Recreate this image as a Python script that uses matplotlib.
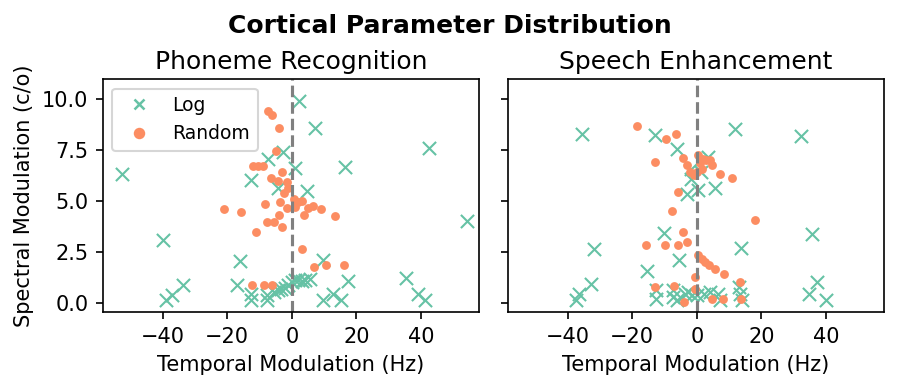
import matplotlib
matplotlib.use("Agg")
import matplotlib.pyplot as plt
from matplotlib.lines import Line2D

green = '#66c2a5'
orange = '#fc8d62'

# Phoneme Recognition
pr_log_x = [-52.7, -39.8, -39.0, -37.2, -33.6, -16.0, -17.0, -12.5, -12.5, -12.5,
            -7.6, -7.6, -7.3, -2.7, -4.3, 1.1, 2.1, 7.1, 42.5, 16.4,
            4.8, 54.3, 9.7, 17.4, 35.5, 39.1, 41.4, 9.7, 12.8, 15.1,
            -5.5, -4.2, -3.2, -2.2, -1.1, 0.0, 0.9, 2.0, 3.0, 4.0, 5.6]
pr_log_y = [6.32, 3.10, 0.11, 0.36, 0.85, 2.05, 0.85, 6.06, 0.44, 0.11,
            0.40, 0.15, 7.09, 7.40, 5.65, 6.62, 9.95, 8.58, 7.63, 6.68,
            5.48, 4.02, 2.12, 1.05, 1.23, 0.44, 0.11, 0.11, 0.44, 0.11,
            0.50, 0.60, 0.69, 0.74, 0.85, 1.00, 1.10, 1.13, 1.06, 1.13, 1.15]
pr_rand_x = [-7.5, -6.1, -4.0, -5.0, -12.0, -10.4, -8.9, -6.5, -4.4, -3.0,
             -1.5, -1.1, -2.4, -8.4, -3.7, 0.7, 2.0, 3.3, -1.6, 0.9,
             5.0, 6.6, 8.9, 13.3, 3.7, -21.0, -15.6, -4.0, -7.6, -5.6,
             -3.0, -11.1, -12.2, -8.7, -6.0, 3.3, 6.9, 10.7, 16.1]
pr_rand_y = [9.44, 9.23, 8.60, 7.47, 6.71, 6.71, 6.71, 6.16, 5.99, 6.43,
             5.94, 5.66, 5.40, 4.88, 4.96, 5.12, 4.96, 5.00, 4.68, 4.71,
             4.68, 4.78, 4.60, 4.27, 4.33, 4.63, 4.45, 4.30, 3.97, 3.97,
             3.72, 3.48, 0.88, 0.85, 0.85, 2.63, 1.75, 1.87, 1.87]

# Speech Enhancement
se_log_x = [-35.7, -31.8, -32.8, -36.6, -37.3, -12.8, -6.0, -10.3, -15.4, -5.6,
            -12.7, -12.7, -7.3, -7.3, -6.2, -2.9, -1.7, -1.7, 11.7, 32.3,
            3.5, 1.4, 0.5, 5.7, 35.7, 13.7, 37.3, 34.7, 40.1, 13.4,
            13.9, 13.2, 7.3, 6.7, 4.2, 2.1, 0.0, -1.5, -2.6, -3.5]
se_log_y = [8.32, 2.63, 0.90, 0.44, 0.15, 8.24, 7.55, 3.45, 1.57, 2.10,
            0.61, 0.20, 0.61, 0.28, 0.11, 5.37, 6.60, 6.10, 8.54, 8.19,
            7.17, 6.43, 5.53, 5.65, 3.36, 2.68, 1.01, 0.44, 0.11, 0.44,
            0.11, 0.77, 0.11, 0.44, 0.52, 0.44, 0.36, 0.36, 0.52, 0.45]
se_rand_x = [-18.4, -9.4, -6.3, -12.8, -4.4, -3.1, -2.0, -1.0, 0.5, 2.0,
             3.0, 4.0, 4.8, 1.0, 1.5, 0.0, 7.3, 10.9, -5.8, -7.8,
             -4.2, -2.9, -15.6, -9.8, -5.9, 17.9, 0.5, 1.5, 2.5, 3.9,
             5.6, 8.4, -0.5, 13.4, 4.6, 8.0, 13.6, -0.4, -13.0, -6.9, -4.1]
se_rand_y = [8.70, 8.06, 8.29, 6.93, 7.12, 6.76, 6.43, 6.27, 7.26, 7.09,
             7.04, 7.01, 6.80, 6.85, 6.60, 6.43, 6.33, 6.15, 5.43, 4.53,
             3.48, 2.98, 2.82, 2.86, 2.86, 4.05, 2.33, 2.17, 2.00, 1.84,
             1.65, 1.39, 1.26, 1.03, 0.16, 0.16, 0.16, 0.65, 0.76, 0.81, 0.05]

panels = [
    ('Phoneme Recognition', pr_log_x, pr_log_y, pr_rand_x, pr_rand_y),
    ('Speech Enhancement', se_log_x, se_log_y, se_rand_x, se_rand_y),
]

fig, axes = plt.subplots(1, 2, figsize=(5.993, 2.6), dpi=150, sharex=True, sharey=True)
fig.subplots_adjust(left=0.1146, right=0.9833, bottom=0.2, top=0.797, wspace=0.077)

for ax, (title, lx, ly, rx, ry) in zip(axes, panels):
    ax.scatter(lx, ly, marker='x', s=40, color=green, linewidths=1.0)
    ax.scatter(rx, ry, marker='o', s=18, color=orange, linewidths=0)
    ax.axvline(0, color='gray', ls='--', lw=1.5)
    ax.set_title(title, fontsize=12, pad=5)
    ax.set_xlabel('Temporal Modulation (Hz)')

ax0 = axes[0]
ax0.set_xlim(-58.5, 58)
ax0.set_ylim(-0.46, 11.0)
ax0.set_yticks([0, 2.5, 5, 7.5, 10])
ax0.set_ylabel('Spectral Modulation (c/o)')

handles = [
    Line2D([], [], marker='x', ls='', color=green, markersize=5, mew=1.2),
    Line2D([], [], marker='o', ls='', color=orange, markersize=5.5, mew=0),
]
ax0.legend(handles, ['Log', 'Random'], loc='upper left', fontsize=9)

fig.suptitle('Cortical Parameter Distribution', fontsize=12, fontweight='bold', y=0.963)

fig.savefig('out.png', dpi=150)
